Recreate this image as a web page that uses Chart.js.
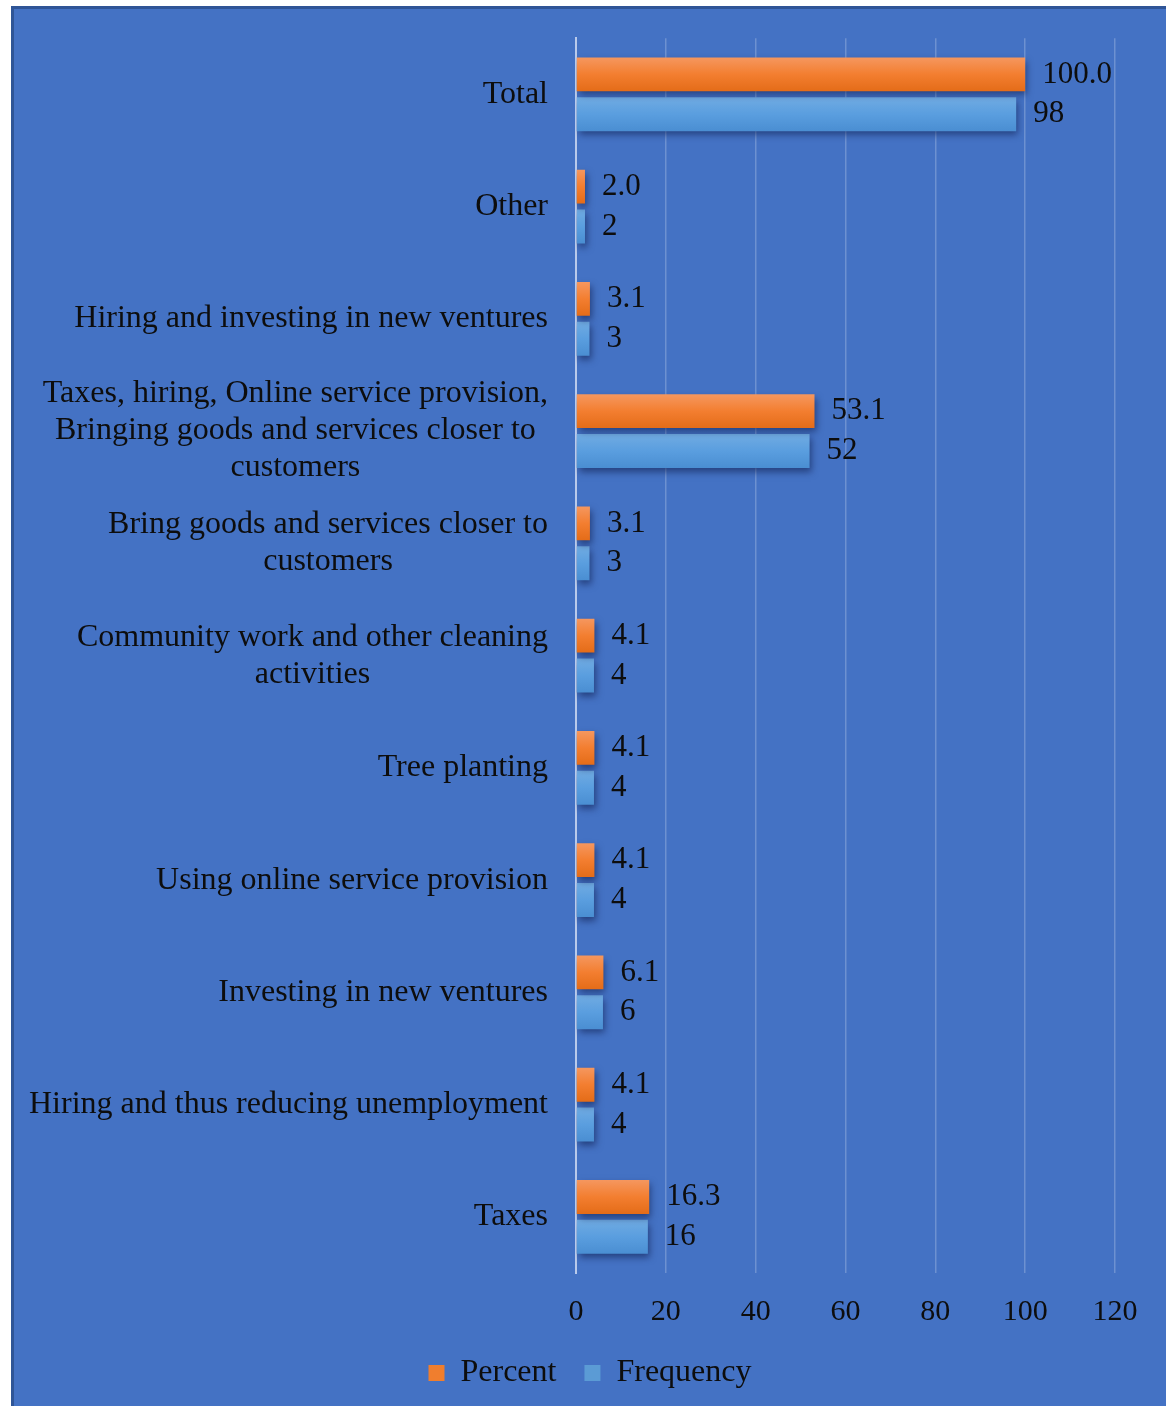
<!DOCTYPE html>
<html>
<head>
<meta charset="utf-8">
<script src="https://cdn.jsdelivr.net/npm/chart.js@4"></script>
<style>
  html, body { margin: 0; padding: 0; background: #fff; }
  #wrap {
    position: absolute; left: 11px; top: 6px;
    width: 1155px; height: 1400px; box-sizing: border-box;
    background: #4472C4;
    border-left: 3px solid #2F5597; border-top: 3px solid #2F5597;
  }
  #chart { display: block; }
</style>
</head>
<body>
<div id="wrap"><canvas id="chart" width="1152" height="1397"></canvas></div>
<script>
// categories, top to bottom
const categories = [
  'Total',
  'Other',
  'Hiring and investing in new ventures',
  ['Taxes, hiring, Online service provision,', 'Bringing goods and services closer to', 'customers'],
  ['Bring goods and services closer to', 'customers'],
  ['Community work and other cleaning', 'activities'],
  'Tree planting',
  'Using online service provision',
  'Investing in new ventures',
  'Hiring and thus reducing unemployment',
  'Taxes'
];
const percent = [100.0, 2.0, 3.1, 53.1, 3.1, 4.1, 4.1, 4.1, 6.1, 4.1, 16.3];
const frequency = [98, 2, 3, 52, 3, 4, 4, 4, 6, 4, 16];
const xTicks = [0, 20, 40, 60, 80, 100, 120];

const FONT = "'Liberation Serif', 'Times New Roman', serif";
const TEXT = '#0d0d0d';
const SIDE = 51;

Chart.defaults.font.family = FONT;
Chart.defaults.font.size = 32;
Chart.defaults.color = TEXT;

// vertical gradient per bar plus a soft drop shadow
const barStyle = {
  id: 'barStyle',
  beforeDatasetDraw(chart, args) {
    const ctx = chart.ctx;
    const stops = args.index === 0
      ? ['#F5975F', '#F37E30', '#E46C18']
      : ['#70ABE2', '#5A9EDF', '#4A8ED2'];
    args.meta.data.forEach(el => {
      const { y, height } = el.getProps(['y', 'height'], true);
      const g = ctx.createLinearGradient(0, y - height / 2, 0, y + height / 2);
      g.addColorStop(0, stops[0]);
      g.addColorStop(0.5, stops[1]);
      g.addColorStop(1, stops[2]);
      el.options = Object.assign({}, el.options, { backgroundColor: g });
    });
    ctx.save();
    ctx.shadowColor = 'rgba(15, 30, 80, 0.6)';
    ctx.shadowBlur = 7;
    ctx.shadowOffsetX = 2;
    ctx.shadowOffsetY = 4;
  },
  afterDatasetDraw(chart) {
    chart.ctx.restore();
  }
};

// value labels at the end of each bar
const valueLabels = {
  id: 'valueLabels',
  afterDatasetsDraw(chart) {
    const ctx = chart.ctx;
    ctx.save();
    ctx.font = '31px ' + FONT;
    ctx.fillStyle = TEXT;
    ctx.textAlign = 'left';
    ctx.textBaseline = 'middle';
    chart.data.datasets.forEach((ds, di) => {
      chart.getDatasetMeta(di).data.forEach((el, i) => {
        const v = ds.data[i];
        const txt = di === 0 ? v.toFixed(1) : String(v);
        ctx.fillText(txt, el.x + 17, el.y);
      });
    });
    ctx.restore();
  }
};

// category labels: each block centred on its widest line, right edge aligned
const catLabels = {
  id: 'catLabels',
  afterDraw(chart) {
    const ctx = chart.ctx;
    const scale = chart.scales.y;
    const right = scale.right - 28;
    const lh = 37;
    ctx.save();
    ctx.font = '32px ' + FONT;
    ctx.fillStyle = TEXT;
    ctx.textAlign = 'center';
    ctx.textBaseline = 'middle';
    categories.forEach((lab, i) => {
      const lines = Array.isArray(lab) ? lab : [lab];
      const w = Math.max(...lines.map(l => ctx.measureText(l).width));
      const cx = right - w / 2;
      const yc = scale.getPixelForTick(i);
      lines.forEach((l, k) => {
        ctx.fillText(l, cx, yc + (k - (lines.length - 1) / 2) * lh);
      });
    });
    ctx.restore();
  }
};

new Chart(document.getElementById('chart'), {
  type: 'bar',
  data: {
    labels: categories,
    datasets: [
      { label: 'Percent', data: percent, backgroundColor: '#F07E2E', borderWidth: 0 },
      { label: 'Frequency', data: frequency, backgroundColor: '#5B9BD5', borderWidth: 0 }
    ]
  },
  options: {
    indexAxis: 'y',
    responsive: false,
    animation: false,
    datasets: { bar: { categoryPercentage: 0.71, barPercentage: 0.85 } },
    layout: { padding: { top: 27, right: SIDE, bottom: 7, left: SIDE } },
    scales: {
      x: {
        min: 0, max: 120,
        afterBuildTicks: s => { s.ticks = xTicks.map(v => ({ value: v })); },
        afterFit: s => { s.height = 56; },
        grid: { color: 'rgba(255,255,255,0.22)', lineWidth: 1.5, drawTicks: false },
        border: { display: false },
        ticks: { padding: 21, color: TEXT, font: { size: 30 } }
      },
      y: {
        grid: { display: false },
        border: { color: '#B9CAEB', width: 2 },
        ticks: { color: 'rgba(0,0,0,0)', padding: 28, font: { size: 2 } },
        afterFit: s => { s.width = 562 - SIDE; }
      }
    },
    plugins: {
      legend: {
        position: 'bottom',
        labels: { boxWidth: 16, boxHeight: 16, padding: 28, color: TEXT }
      },
      tooltip: { enabled: false }
    }
  },
  plugins: [barStyle, valueLabels, catLabels]
});
</script>
</body>
</html>
